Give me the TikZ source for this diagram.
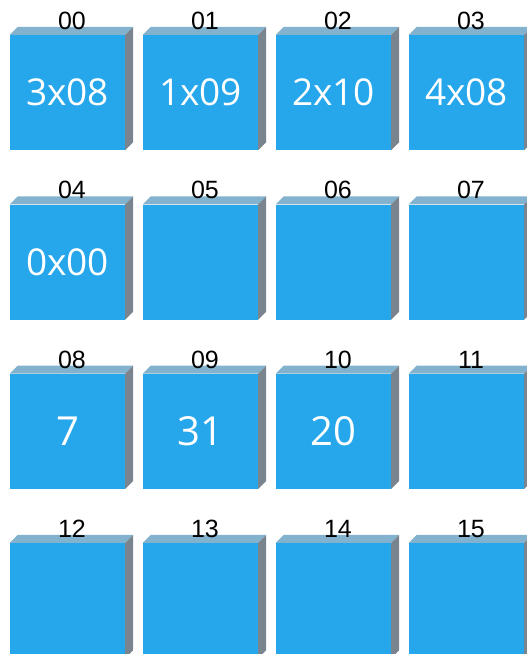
\documentclass[tikz,border=0pt]{standalone}
\usepackage{fontspec}
\setmainfont{Liberation Sans}
\newfontfamily\cellfont{Open Sans}
\definecolor{frontc}{RGB}{38,167,236}
\definecolor{topc}{RGB}{130,178,206}
\definecolor{sidec}{RGB}{122,132,142}
\newcommand\mkcube[5]{%
  \node[frontbox] (#1) at (#2,#3) {#5};
  \fill[topc] (#1.north west) -- ++(8,8) -- ([shift={(8pt,8pt)}]#1.north east) -- (#1.north east) -- cycle;
  \fill[sidec] (#1.north east) -- ++(8,8) -- ([shift={(8pt,8pt)}]#1.south east) -- (#1.south east) -- cycle;
  \node[idx] (#1l) at ([xshift=4.5pt,yshift=14pt]#1.north) {#4};
}
\begin{document}
\begin{tikzpicture}[x=1pt,y=1pt,
  frontbox/.style={fill=frontc, minimum width=115pt, minimum height=115pt, inner sep=0pt, text=white, font=\cellfont\fontsize{37}{37}\selectfont},
  idx/.style={font=\fontsize{25}{25}\selectfont, inner sep=0pt, text=black}]
\useasboundingbox (0,0) rectangle (527,-654);
\mkcube{c00}{67.5}{-92.5}{00}{3x08}
\mkcube{c01}{200.5}{-92.5}{01}{1x09}
\mkcube{c02}{333.5}{-92.5}{02}{2x10}
\mkcube{c03}{466.5}{-92.5}{03}{4x08}
\mkcube{c04}{67.5}{-262}{04}{0x00}
\mkcube{c05}{200.5}{-262}{05}{}
\mkcube{c06}{333.5}{-262}{06}{}
\mkcube{c07}{466.5}{-262}{07}{}
\mkcube{c08}{67.5}{-431.3}{08}{\fontsize{40}{40}\selectfont 7}
\mkcube{c09}{200.5}{-431.3}{09}{\fontsize{40}{40}\selectfont 31}
\mkcube{c10}{333.5}{-431.3}{10}{\fontsize{40}{40}\selectfont 20}
\mkcube{c11}{466.5}{-431.3}{11}{}
\mkcube{c12}{67.5}{-600.5}{12}{}
\mkcube{c13}{200.5}{-600.5}{13}{}
\mkcube{c14}{333.5}{-600.5}{14}{}
\mkcube{c15}{466.5}{-600.5}{15}{}
\end{tikzpicture}
\end{document}
